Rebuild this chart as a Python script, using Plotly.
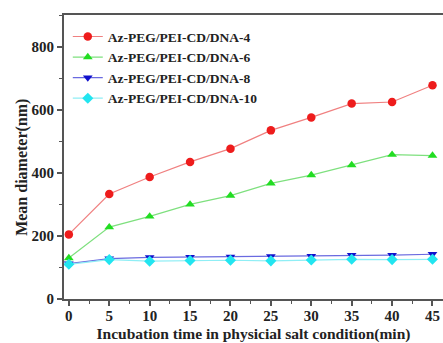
import plotly.graph_objects as go

time_min = [0, 5, 10, 15, 20, 25, 30, 35, 40, 45]
dna4 = [205, 333, 387, 435, 477, 535, 576, 620, 625, 678]
dna6 = [130, 228, 262, 300, 328, 367, 393, 425, 458, 455]
dna8 = [112, 128, 132, 133, 134, 135, 136, 139, 139, 142]
dna10 = [110, 125, 120, 122, 123, 121, 124, 126, 125, 126]

names = ["Az-PEG/PEI-CD/DNA-4", "Az-PEG/PEI-CD/DNA-6",
         "Az-PEG/PEI-CD/DNA-8", "Az-PEG/PEI-CD/DNA-10"]
series = [dna4, dna6, dna8, dna10]
line_colors = ["#f08080", "#7ee07e", "#6a6ae0", "#8feef5"]
marker_colors = ["#ee1c1c", "#22dd22", "#1010cc", "#22e5f0"]
symbols = ["circle", "triangle-up", "triangle-down", "diamond"]

font_family = "Liberation Serif"

fig = go.Figure()
for n, s, lc, mc, sym in zip(names, series, line_colors, marker_colors, symbols):
    fig.add_trace(go.Scatter(
        x=time_min, y=s, name=f"<b>{n}</b>", mode="lines+markers",
        line=dict(color=lc, width=1.2),
        marker=dict(color=mc, symbol=sym, size=8.5),
    ))

fig.update_layout(
    width=443, height=343,
    margin=dict(l=64, r=0, t=15, b=44),
    paper_bgcolor="white", plot_bgcolor="white",
    font=dict(family=font_family, color="#222222"),
    showlegend=True,
    legend=dict(x=0.01, y=0.978, xanchor="left", yanchor="top",
                bgcolor="rgba(0,0,0,0)", borderwidth=0,
                font=dict(family=font_family, size=13.5, color="#222222"),
                tracegroupgap=0, itemwidth=30),
)
fig.add_annotation(
    text="<b>Mean diameter(nm)</b>", textangle=-90,
    xref="paper", yref="paper", x=-0.111, y=0.465,
    xanchor="center", yanchor="middle", showarrow=False,
    font=dict(size=16, family=font_family, color="#222222"),
)
fig.update_xaxes(
    range=[-0.6, 46.3], tickvals=time_min,
    ticktext=[f"<b>{t}</b>" for t in time_min],
    tickfont=dict(size=15, family=font_family, color="#222222"),
    showgrid=False, zeroline=False, automargin=False,
    showline=True, linecolor="#555555", linewidth=2, mirror=True,
    ticks="outside", ticklen=5, tickwidth=1.5, tickcolor="#555555",
    ticklabelstandoff=-3, ticklabeloverflow="allow",
    minor=dict(ticks="outside", ticklen=3, tickwidth=1.2, tickcolor="#555555", dtick=2.5, tick0=0),
    title=dict(text="<b>Incubation time in physicial salt condition(min)</b>",
               font=dict(size=15.5, family=font_family, color="#222222"), standoff=6),
)
fig.update_yaxes(
    range=[0, 901], tickvals=[0, 200, 400, 600, 800],
    ticktext=["<b>0</b>", "<b>200</b>", "<b>400</b>", "<b>600</b>", "<b>800</b>"],
    tickfont=dict(size=15, family=font_family, color="#222222"),
    showgrid=False, zeroline=False, automargin=False,
    showline=True, linecolor="#555555", linewidth=2, mirror=False,
    ticks="outside", ticklen=5, tickwidth=1.5, tickcolor="#555555",
    minor=dict(ticks="outside", ticklen=3, tickwidth=1.2, tickcolor="#555555", dtick=100, tick0=0),
)

fig.write_html("out.html", config={"displayModeBar": False},
               post_script="document.body.style.margin='0px';document.body.style.overflow='hidden';")
